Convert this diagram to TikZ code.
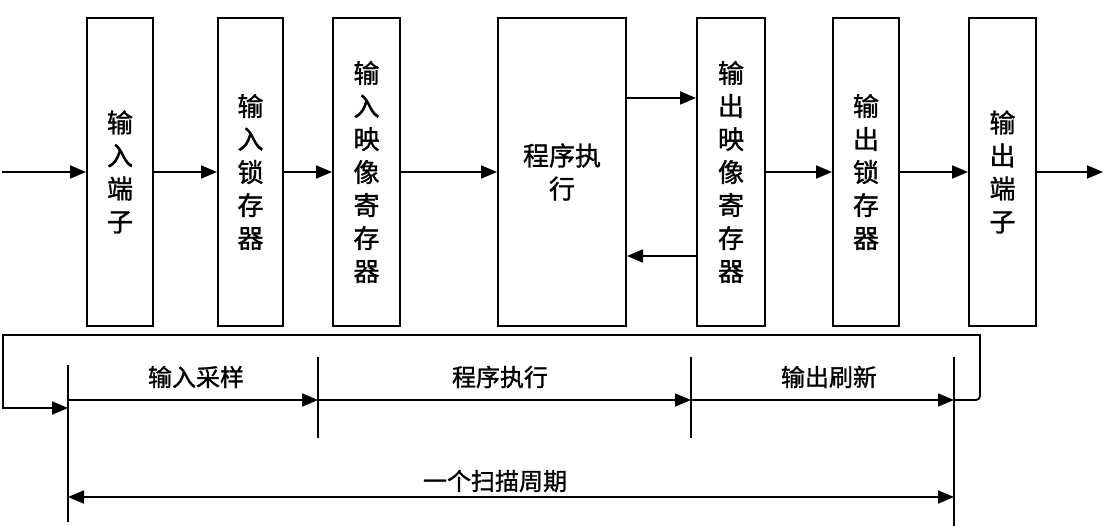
\documentclass[tikz,border=0pt]{standalone}
\usepackage{fontspec}
\newfontfamily\cjk[FakeBold=1.2]{Noto Sans CJK SC}
\usetikzlibrary{arrows.meta,positioning}

\begin{document}
\begin{tikzpicture}[x=1pt, y=-1pt,
  blk/.style={draw, line width=2pt, minimum height=308pt, inner sep=0pt, align=center,
    font=\cjk\fontsize{26}{33}\selectfont},
  arr/.style={line width=1.8pt, -{Triangle[length=16pt,width=13pt]}},
  dbl/.style={line width=1.8pt, {Triangle[length=16pt,width=13pt]}-{Triangle[length=16pt,width=13pt]}},
  ln/.style={line width=1.8pt},
  lbl/.style={font=\cjk\fontsize{24}{28}\selectfont, inner sep=0pt},
]
\useasboundingbox (0,0) rectangle (1108,526);

% ====== Register chain (top) ======
\node[blk, minimum width=66pt]  (inT)  at (120,172)   {输\\入\\端\\子};
\node[blk, minimum width=65pt]  (inL)  at (250.5,172) {输\\入\\锁\\存\\器};
\node[blk, minimum width=67pt]  (inM)  at (366.5,172) {输\\入\\映\\像\\寄\\存\\器};
\node[blk, minimum width=128pt] (prog) at (562,172)   {程序执\\行};
\node[blk, minimum width=68pt]  (outM) at (731,172)   {输\\出\\映\\像\\寄\\存\\器};
\node[blk, minimum width=66pt]  (outL) at (866,172)   {输\\出\\锁\\存\\器};
\node[blk, minimum width=67pt]  (outT) at (1002.5,172) {输\\出\\端\\子};

\coordinate (src) at (2,172);
\coordinate (dst) at (1103,172);
\coordinate (up) at (0,98);
\coordinate (dn) at (0,256);

\draw[arr] (src) -- (inT);
\draw[arr] (inT) -- (inL);
\draw[arr] (inL) -- (inM);
\draw[arr] (inM) -- (prog);
\draw[arr] (prog.east |- up) -- (outM.west |- up);
\draw[arr] (outM.west |- dn) -- (prog.east |- dn);
\draw[arr] (outM) -- (outL);
\draw[arr] (outL) -- (outT);
\draw[arr] (outT) -- (dst);

% ====== Scan stages (bottom) ======
\coordinate (t0) at (68,400);
\coordinate (t1) at (318,400);
\coordinate (t2) at (691,400);
\coordinate (t3) at (954,400);

\draw[ln] (t0 |- 0,365) -- (t0 |- 0,522);
\draw[ln] (t1 |- 0,357) -- (t1 |- 0,438);
\draw[ln] (t2 |- 0,357) -- (t2 |- 0,438);
\draw[ln] (t3 |- 0,357) -- (t3 |- 0,526);

\draw[arr] (t0) -- (t1);
\draw[arr] (t1) -- (t2);
\draw[arr] (t2) -- (t3);
\draw[arr] (t3) [rounded corners=4pt] -- (980,400) [sharp corners] -- (980,335) -- (3,335) -- (3,408) -- (t0 |- 0,408);

\node[lbl] (samp) at (196,377) {输入采样};
\node[lbl] (exec) at (500,377) {程序执行};
\node[lbl] (refr) at (829,377) {输出刷新};

\draw[dbl] (t0 |- 0,497) -- (t3 |- 0,497);
\node[lbl] (cyc) at (495,481) {一个扫描周期};

\end{tikzpicture}
\end{document}
